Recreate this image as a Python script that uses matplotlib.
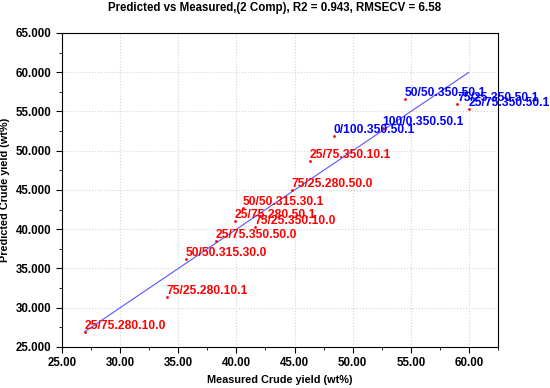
import numpy as np
import matplotlib.pyplot as plt
from matplotlib.ticker import MultipleLocator, FormatStrFormatter

plt.rcParams['font.family'] = ['Liberation Sans', 'DejaVu Sans']

labels = ['25/75.280.10.0', '75/25.280.10.1', '50/50.315.30.0', '25/75.350.50.0',
          '25/75.280.50.1', '75/25.350.10.0', '50/50.315.30.1', '75/25.280.50.0',
          '25/75.350.10.1', '0/100.350.50.1', '100/0.350.50.1', '50/50.350.50.1',
          '75/25.350.50.1', '25/75.350.50.1']
measured = [26.98, 34.02, 35.65, 38.23, 39.86, 41.58, 40.55, 44.76,
            46.30, 48.37, 52.58, 54.47, 59.00, 59.97]
predicted = [26.90, 31.37, 36.21, 38.50, 41.05, 40.30, 42.70, 45.00,
             48.70, 51.88, 52.90, 56.60, 55.95, 55.30]
label_colors = ['red'] * 9 + ['blue'] * 5

fig = plt.figure(figsize=(5.5, 3.88), dpi=100)
ax = fig.add_axes([0.1127, 0.1057, 0.7928, 0.8093])

ax.grid(True, which='major', linestyle=':', color='#d4d4d4', linewidth=0.8)
ax.set_axisbelow(True)

# fit line (1:1 over the data range)
lo, hi = min(measured), max(measured)
ax.plot([lo, hi], [lo, hi], color='#5555ff', linewidth=0.8)

ax.plot(measured, predicted, 's', color='red', markersize=0.9, linestyle='none')

for x, y, lab, c in zip(measured, predicted, labels, label_colors):
    ax.annotate(lab, (x, y), xytext=(0, 3), textcoords='offset pixels',
                ha='left', va='baseline', color=c, fontsize=8.7, fontweight='bold')

ax.set_xlim(25, 62.5)
ax.set_ylim(25, 65)
ax.xaxis.set_major_locator(MultipleLocator(5))
ax.yaxis.set_major_locator(MultipleLocator(5))
ax.xaxis.set_minor_locator(MultipleLocator(2.5))
ax.yaxis.set_minor_locator(MultipleLocator(2.5))
ax.xaxis.set_major_formatter(FormatStrFormatter('%.2f'))
ax.yaxis.set_major_formatter(FormatStrFormatter('%.3f'))
ax.tick_params(which='both', direction='out', labelsize=8.3)
ax.tick_params(which='major', length=4)
ax.tick_params(which='minor', length=2)
for t in ax.get_xticklabels() + ax.get_yticklabels():
    t.set_fontweight('bold')

ax.set_xlabel('Measured Crude yield (wt%)', fontsize=7.8, fontweight='bold')
ax.set_ylabel('Predicted Crude yield (wt%)', fontsize=7.8, fontweight='bold')
fig.suptitle('Predicted vs Measured,(2 Comp), R2 = 0.943, RMSECV = 6.58',
             fontsize=8.3, fontweight='bold', y=0.995)

fig.savefig('out.png', dpi=100)
